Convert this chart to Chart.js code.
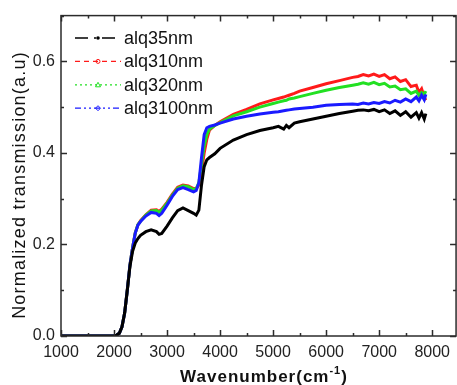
<!DOCTYPE html>
<html>
<head>
<meta charset="utf-8">
<script src="https://cdn.jsdelivr.net/npm/chart.js"></script>
<style>
  html, body { margin: 0; padding: 0; background: #fff; }
  #wrap { width: 457px; height: 385px; }
</style>
</head>
<body>
<div id="wrap"><canvas id="chart" width="457" height="385"></canvas></div>
<script>
const wavenumber = [1000, 1500, 2000, 2050, 2100, 2150, 2200, 2250, 2300, 2350,
  2400, 2450, 2500, 2600, 2700, 2800, 2850, 2900, 3000, 3100,
  3200, 3300, 3400, 3500, 3550, 3600, 3650, 3700, 3750, 3800,
  3900, 4000, 4250, 4500, 4750, 5000, 5100, 5200, 5250, 5300,
  5400, 5500, 5750, 6000, 6250, 6500, 6600, 6700, 6800, 6900,
  7000, 7100, 7200, 7300, 7400, 7500, 7600, 7700, 7750, 7800,
  7850, 7880];

const alq35nm = [0, 0, 0, 0.002, 0.006, 0.02, 0.05, 0.1, 0.152, 0.185,
  0.203, 0.213, 0.22, 0.228, 0.232, 0.228, 0.222, 0.224, 0.24, 0.258,
  0.274, 0.28, 0.274, 0.268, 0.264, 0.275, 0.33, 0.37, 0.385, 0.39,
  0.398, 0.41, 0.428, 0.44, 0.449, 0.455, 0.458, 0.452, 0.46, 0.455,
  0.465, 0.468, 0.474, 0.48, 0.486, 0.491, 0.493, 0.494, 0.492, 0.495,
  0.49, 0.494, 0.486, 0.492, 0.482, 0.49, 0.478, 0.488, 0.476, 0.488,
  0.474, 0.486];

const alq310nm = [0, 0, 0, 0.002, 0.006, 0.02, 0.05, 0.1, 0.155, 0.193,
  0.225, 0.243, 0.252, 0.265, 0.275, 0.276, 0.272, 0.277, 0.292, 0.31,
  0.325, 0.33, 0.328, 0.322, 0.322, 0.33, 0.36, 0.4, 0.43, 0.45,
  0.46, 0.468, 0.484, 0.495, 0.507, 0.516, 0.519, 0.522, 0.524, 0.526,
  0.53, 0.535, 0.543, 0.551, 0.558, 0.565, 0.567, 0.571, 0.568, 0.572,
  0.567, 0.571, 0.562, 0.566, 0.556, 0.56, 0.545, 0.548, 0.532, 0.54,
  0.522, 0.515];

const alq320nm = [0, 0, 0, 0.002, 0.006, 0.02, 0.05, 0.1, 0.155, 0.193,
  0.225, 0.243, 0.251, 0.264, 0.273, 0.274, 0.27, 0.275, 0.29, 0.308,
  0.323, 0.328, 0.326, 0.32, 0.322, 0.335, 0.375, 0.415, 0.44, 0.452,
  0.46, 0.466, 0.481, 0.49, 0.5, 0.508, 0.511, 0.514, 0.515, 0.518,
  0.52, 0.523, 0.53, 0.537, 0.543, 0.548, 0.55, 0.553, 0.55, 0.554,
  0.549, 0.552, 0.544, 0.546, 0.538, 0.54, 0.53, 0.535, 0.526, 0.532,
  0.528, 0.535];

const alq3100nm = [0, 0, 0, 0.002, 0.006, 0.02, 0.05, 0.1, 0.155, 0.193,
  0.225, 0.242, 0.25, 0.262, 0.27, 0.268, 0.263, 0.268, 0.286, 0.305,
  0.32, 0.324, 0.32, 0.315, 0.318, 0.335, 0.39, 0.44, 0.455, 0.458,
  0.461, 0.465, 0.474, 0.48, 0.485, 0.489, 0.49, 0.492, 0.493, 0.494,
  0.496, 0.497, 0.5, 0.504, 0.506, 0.507, 0.506, 0.509, 0.507, 0.51,
  0.508, 0.512, 0.509, 0.515, 0.511, 0.518, 0.512, 0.522, 0.514, 0.526,
  0.516, 0.528];

const xTicks = [1000, 2000, 3000, 4000, 5000, 6000, 7000, 8000];
const yTicks = [0, 0.2, 0.4, 0.6];
const xMin = 1000, xMax = 8450;
const yMin = 0, yMax = 0.7;

const series = [
  { label: 'alq35nm', values: alq35nm, color: '#000000', dash: [13, 6, 2, 6], marker: 'dot' },
  { label: 'alq310nm', values: alq310nm, color: '#ff1a1a', dash: [5, 4], marker: 'circle' },
  { label: 'alq320nm', values: alq320nm, color: '#22e022', dash: [2, 3], marker: 'triangle' },
  { label: 'alq3100nm', values: alq3100nm, color: '#1a1aff', dash: [6, 3, 2, 3, 2, 3], marker: 'diamond' }
];

// draw order: red and green under blue, black on top
const drawOrder = [0, 3, 2, 1];

function toPoints(values) {
  return wavenumber.map((w, i) => ({ x: w, y: values[i] }));
}

function drawMarker(ctx, kind, cx, cy, color) {
  ctx.save();
  ctx.setLineDash([]);
  ctx.strokeStyle = color;
  ctx.fillStyle = color;
  ctx.lineWidth = 1;
  ctx.beginPath();
  if (kind === 'dot') {
    ctx.arc(cx, cy, 1.8, 0, Math.PI * 2);
    ctx.fill();
  } else if (kind === 'circle') {
    ctx.arc(cx, cy, 2, 0, Math.PI * 2);
    ctx.stroke();
  } else if (kind === 'triangle') {
    ctx.moveTo(cx, cy - 2.5);
    ctx.lineTo(cx + 2.5, cy + 2);
    ctx.lineTo(cx - 2.5, cy + 2);
    ctx.closePath();
    ctx.stroke();
  } else {
    ctx.moveTo(cx, cy - 2.5);
    ctx.lineTo(cx + 2.5, cy);
    ctx.lineTo(cx, cy + 2.5);
    ctx.lineTo(cx - 2.5, cy);
    ctx.closePath();
    ctx.stroke();
  }
  ctx.restore();
}

const framePlugin = {
  id: 'frame',
  afterDatasetsDraw(chart) {
    const { ctx, chartArea: a, scales: { x, y } } = chart;
    ctx.save();
    ctx.strokeStyle = '#2b2b2b';
    ctx.lineWidth = 1.5;
    ctx.strokeRect(a.left, a.top, a.right - a.left, a.bottom - a.top);
    ctx.beginPath();
    for (let v = xMin; v <= xMax; v += 500) {
      const px = Math.round(x.getPixelForValue(v)) + 0.5;
      const len = v % 1000 === 0 ? 6 : 3;
      ctx.moveTo(px, a.bottom); ctx.lineTo(px, a.bottom - len);
      ctx.moveTo(px, a.top); ctx.lineTo(px, a.top + len);
    }
    for (let i = 0; i <= 7; i++) {
      const py = Math.round(y.getPixelForValue(i / 10)) + 0.5;
      const len = i % 2 === 0 ? 6 : 3;
      ctx.moveTo(a.left, py); ctx.lineTo(a.left + len, py);
      ctx.moveTo(a.right, py); ctx.lineTo(a.right - len, py);
    }
    ctx.stroke();
    ctx.restore();
  },
  afterDraw(chart) {
    const { ctx, chartArea: a } = chart;
    ctx.save();
    // legend
    ctx.font = '18px "Liberation Sans", Arial, sans-serif';
    ctx.textBaseline = 'middle';
    series.forEach((s, i) => {
      const yy = 38 + i * 23.4;
      ctx.save();
      ctx.strokeStyle = s.color;
      ctx.lineWidth = 1.3;
      ctx.setLineDash(s.dash);
      ctx.beginPath();
      ctx.moveTo(75, yy); ctx.lineTo(121, yy);
      ctx.stroke();
      ctx.restore();
      drawMarker(ctx, s.marker, 98, yy, s.color);
      ctx.fillStyle = '#111';
      ctx.fillText(s.label, 124, yy + 1);
    });

    // y title
    ctx.save();
    ctx.translate(20, 185);
    ctx.rotate(-Math.PI / 2);
    ctx.textAlign = 'center';
    ctx.letterSpacing = '1.2px';
    ctx.fillStyle = '#111';
    ctx.fillText('Normalized transmission(a.u)', 0, 0);
    ctx.restore();

    // x title with superscript
    ctx.save();
    ctx.fillStyle = '#111';
    ctx.letterSpacing = '1px';
    ctx.textBaseline = 'alphabetic';
    const main = 'Wavenumber(cm';
    const sup = '-1';
    const tail = ')';
    ctx.font = 'bold 17px "Liberation Sans", Arial, sans-serif';
    const wMain = ctx.measureText(main).width;
    const wTail = ctx.measureText(tail).width;
    ctx.font = 'bold 11px "Liberation Sans", Arial, sans-serif';
    const wSup = ctx.measureText(sup).width;
    let tx = 264 - (wMain + wSup + wTail) / 2;
    ctx.font = 'bold 17px "Liberation Sans", Arial, sans-serif';
    ctx.fillText(main, tx, 382);
    tx += wMain;
    ctx.font = 'bold 11px "Liberation Sans", Arial, sans-serif';
    ctx.fillText(sup, tx, 374);
    tx += wSup;
    ctx.font = 'bold 17px "Liberation Sans", Arial, sans-serif';
    ctx.fillText(tail, tx, 382);
    ctx.restore();
    ctx.restore();
  }
};

const datasets = drawOrder.map(idx => {
  const s = series[idx];
  return {
    label: s.label,
    data: toPoints(s.values),
    borderColor: s.color,
    backgroundColor: s.color,
    borderWidth: 3,
    pointRadius: 0,
    tension: 0,
    fill: false
  };
});

new Chart(document.getElementById('chart'), {
  type: 'line',
  data: { datasets: datasets },
  options: {
    responsive: false,
    animation: false,
    layout: { padding: { top: 13, right: 0, left: 0, bottom: 0 } },
    plugins: {
      legend: { display: false },
      tooltip: { enabled: false }
    },
    scales: {
      x: {
        type: 'linear',
        min: xMin,
        max: xMax,
        grid: { display: false, drawTicks: false },
        border: { display: false },
        afterBuildTicks: scale => { scale.ticks = xTicks.map(v => ({ value: v })); },
        afterFit: scale => { scale.height = 49; },
        ticks: {
          padding: 7,
          color: '#222',
          maxRotation: 0,
          font: { family: '"Liberation Sans", Arial, sans-serif', size: 16 },
          callback: v => String(v)
        }
      },
      y: {
        type: 'linear',
        min: yMin,
        max: yMax,
        grid: { display: false, drawTicks: false },
        border: { display: false },
        afterBuildTicks: scale => { scale.ticks = yTicks.map(v => ({ value: v })); },
        afterFit: scale => { scale.width = 61; },
        ticks: {
          padding: 6,
          color: '#222',
          font: { family: '"Liberation Sans", Arial, sans-serif', size: 16 },
          callback: v => v.toFixed(1)
        }
      }
    }
  },
  plugins: [framePlugin]
});
</script>
</body>
</html>
